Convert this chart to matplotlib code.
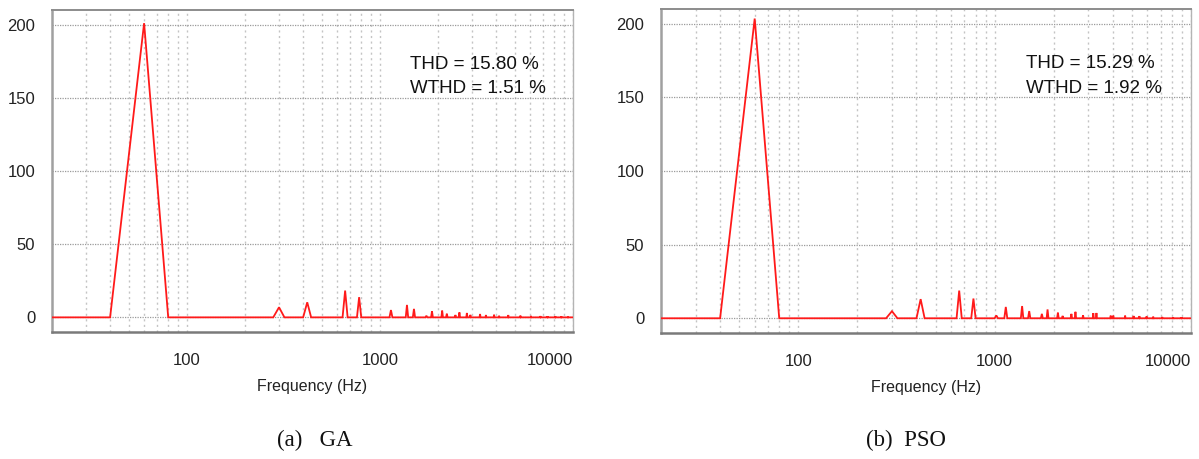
import matplotlib
matplotlib.use("Agg")
import matplotlib.pyplot as plt
from matplotlib import font_manager
from matplotlib.ticker import FixedLocator, NullFormatter, FixedFormatter

# ---------------- data ----------------
bin_width = 20  # Hz, spectrum resolution
fundamental_freq = 60
ga_fund_mag = 201
pso_fund_mag = 203.5

ga_harm_freqs = [300, 420, 660, 780, 1140, 1380, 1500, 1740, 1860, 2100, 2220,
                 2460, 2580, 2820, 2940, 3300, 3540, 3900, 4140, 4620, 5340,
                 6060, 6780, 7380, 8100, 8700, 9420]
ga_harm_mags = [6.9, 10.3, 18.3, 13.8, 5.0, 8.5, 5.8, 1.1, 4.1, 4.6, 2.5,
                1.6, 3.4, 3.0, 1.7, 2.3, 1.6, 1.8, 1.1, 1.6, 1.2,
                1.0, 0.9, 0.7, 0.6, 0.6, 0.5]

pso_harm_freqs = [300, 420, 660, 780, 1020, 1140, 1380, 1500, 1740, 1860, 2100,
                  2220, 2460, 2580, 2820, 3180, 3300, 3900, 4020, 4620, 5100,
                  5460, 5940, 6420, 7140, 8100, 8940]
pso_harm_mags = [4.8, 13.0, 18.8, 13.4, 1.9, 7.7, 8.3, 4.9, 3.0, 6.0, 3.8,
                 1.6, 3.0, 4.4, 2.0, 3.5, 3.6, 1.8, 1.8, 1.8, 1.6,
                 1.5, 1.3, 1.1, 0.9, 0.7, 0.6]

f_min, f_max = 20, 10000
y_ticks = [0, 50, 100, 150, 200]
x_major = [100, 1000, 10000]
x_major_labels = ["100", "1000", "10000"]
x_minor = [30, 40, 50, 60, 70, 80, 90, 200, 300, 400, 500, 600, 700, 800, 900,
           2000, 3000, 4000, 5000, 6000, 7000, 8000, 9000]

ga_text = ["THD = 15.80 %", "WTHD = 1.51 %"]
pso_text = ["THD = 15.29 %", "WTHD = 1.92 %"]
captions = ["(a)   GA", "(b)  PSO"]
xlabel = "Frequency (Hz)"

# ---------------- fonts ----------------
names = {f.name for f in font_manager.fontManager.ttflist}
def pick(*cands):
    for c in cands:
        if c in names:
            return c
    return "DejaVu Sans"
narrow = pick("Liberation Sans Narrow", "Liberation Sans", "DejaVu Sans")
sans = pick("Liberation Sans", "DejaVu Sans")
serif = pick("Liberation Serif", "DejaVu Serif")


def spectrum(fund_mag, freqs, mags):
    xs = [f_min, fundamental_freq - bin_width, fundamental_freq,
          fundamental_freq + bin_width]
    ys = [0, 0, fund_mag, 0]
    for f, m in zip(freqs, mags):
        xs += [f - bin_width, f, f + bin_width]
        ys += [0, m, 0]
    xs.append(f_max)
    ys.append(0)
    return xs, ys


fig = plt.figure(figsize=(11.99, 4.59), dpi=100)
W, H = 1199, 459
ax1 = fig.add_axes([52 / W, 1 - 332 / H, 521 / W, 322 / H])
ax2 = fig.add_axes([661 / W, 1 - 333 / H, 530 / W, 324 / H])

for ax, fm, fr, mg, txt in [(ax1, ga_fund_mag, ga_harm_freqs, ga_harm_mags, ga_text),
                            (ax2, pso_fund_mag, pso_harm_freqs, pso_harm_mags, pso_text)]:
    xs, ys = spectrum(fm, fr, mg)
    ax.plot(xs, ys, color="#ff1a1a", lw=1.3, solid_joinstyle="miter", zorder=3)
    ax.set_xscale("log")
    ax.set_xlim(f_min, f_max)
    ax.set_ylim(-10, 210)
    ax.xaxis.set_major_locator(FixedLocator(x_major))
    ax.xaxis.set_major_formatter(FixedFormatter(x_major_labels))
    ax.xaxis.set_minor_locator(FixedLocator(x_minor))
    ax.xaxis.set_minor_formatter(NullFormatter())
    ax.set_yticks(y_ticks)
    ax.tick_params(axis="both", which="both", length=0)
    ax.tick_params(axis="y", pad=12)
    ax.tick_params(axis="x", pad=15)
    for lab in ax.get_xticklabels() + ax.get_yticklabels():
        lab.set_fontfamily(narrow)
        lab.set_fontsize(12)
        lab.set_color("#222222")
    ax.get_xticklabels()[-1].set_ha("right")
    ax.grid(True, axis="x", which="both", color="#c4c4c4", lw=1.0,
            linestyle=(0, (1.5, 2.5)))
    ax.grid(True, axis="y", which="major", color="#9a9a9a", lw=0.9,
            linestyle=(0, (1, 1)))
    ax.set_axisbelow(True)
    ax.spines["left"].set_color("#a0a0a0")
    ax.spines["left"].set_linewidth(1.8)
    ax.spines["bottom"].set_color("#7a7a7a")
    ax.spines["bottom"].set_linewidth(1.8)
    ax.spines["top"].set_color("#8c8c8c")
    ax.spines["top"].set_linewidth(1.4)
    ax.spines["right"].set_color("#b4b4b4")
    ax.spines["right"].set_linewidth(1.0)
    ax.set_xlabel(xlabel, fontfamily=narrow, fontsize=11.5, color="#222222",
                  labelpad=8)
    ax.text(0.688, 170, txt[0], transform=ax.get_yaxis_transform(),
            fontfamily=sans, fontsize=13.5, va="baseline", ha="left", color="#111111")
    ax.text(0.688, 153.3, txt[1], transform=ax.get_yaxis_transform(),
            fontfamily=sans, fontsize=13.5, va="baseline", ha="left", color="#111111")

fig.text(277 / W, 1 - 446 / H, captions[0], fontfamily=serif, fontsize=16.5,
         ha="left", va="baseline", color="#111111")
fig.text(866 / W, 1 - 446 / H, captions[1], fontfamily=serif, fontsize=16.5,
         ha="left", va="baseline", color="#111111")

fig.savefig("out.png", dpi=100)
